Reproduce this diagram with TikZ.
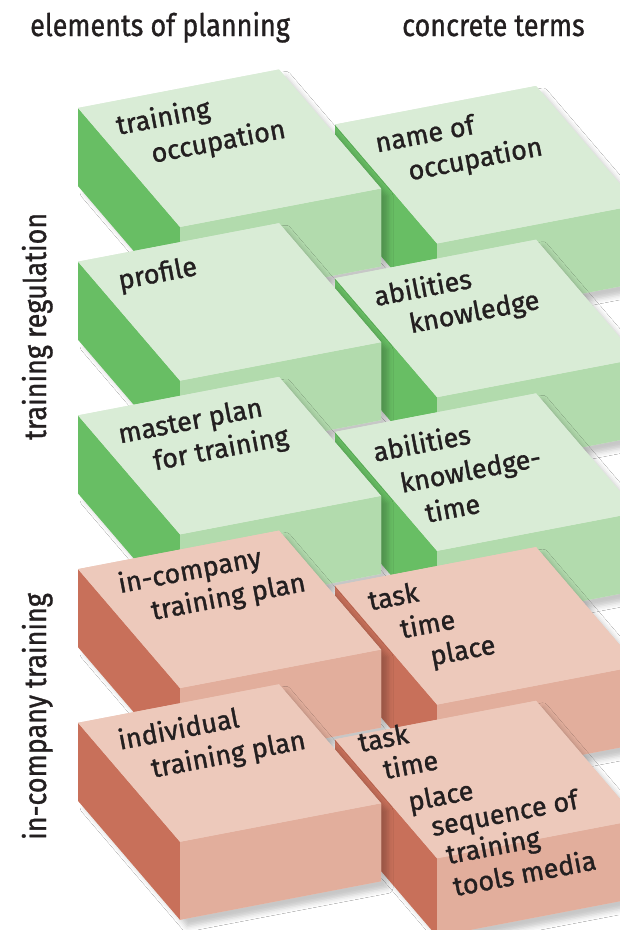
\documentclass[tikz,border=0pt]{standalone}
\usepackage{fontspec}
\setmainfont[FakeBold=1.2]{Fira Sans}
\newfontfamily\condfont[FakeStretch=0.87,FakeBold=1.0]{Fira Sans}
\usetikzlibrary{shadows.blur}
\definecolor{gtop}{RGB}{217,236,214}
\definecolor{gfront}{RGB}{178,219,173}
\definecolor{gleft}{RGB}{104,190,100}
\definecolor{rtop}{RGB}{237,201,187}
\definecolor{rfront}{RGB}{226,174,156}
\definecolor{rleft}{RGB}{200,112,90}
\definecolor{txt}{RGB}{35,31,32}
\tikzset{
  lbl/.style={anchor=base west, rotate=10.8, inner sep=0pt, text=txt,
    font=\fontsize{27}{30}\selectfont},
  hdr/.style={anchor=base west, inner sep=0pt, text=txt,
    font=\condfont\fontsize{31}{34}\selectfont},
  side/.style={hdr, rotate=90},
  shad/.style={blur shadow={shadow xshift=7pt, shadow yshift=-7pt,
    shadow blur radius=5pt, shadow opacity=22}},
}
\newcommand\myblock[4]{%
  \begin{scope}[shift={(#1,#2)}]
    \fill[#3top, shad] (0,0) -- (201,-38.5) -- (303,80.5) -- (303,158.5)
      -- (102,197) -- (0,78) -- cycle;
    \fill[#3left] (0,0) -- (102,119) -- (102,197) -- (0,78) -- cycle;
    \fill[#3front] (102,119) -- (303,80.5) -- (303,158.5) -- (102,197) -- cycle;
    \fill[#3top] (0,0) -- (201,-38.5) -- (303,80.5) -- (102,119) -- cycle;
    #4
  \end{scope}}
\begin{document}
\begin{tikzpicture}[x=1pt,y=-1pt]
\useasboundingbox (0,0) rectangle (620,930);
\fill[white] (0,0) rectangle (620,930);
\clip (0,0) rectangle (620,930);

\node[hdr] (h1) at (30,36) {elements of planning};
\node[hdr] (h2) at (402,36) {concrete terms};
\node[side] (s1) at (46,440) {training regulation};
\node[side] (s2) at (46,840) {in-company training};

% row 1
\myblock{335}{124.5}{g}{
  \node[lbl] (r1a) at (42,28) {name of};
  \node[lbl] (r1b) at (75,56) {occupation};}
\myblock{78}{108}{g}{
  \node[lbl] (l1a) at (40,27) {training};
  \node[lbl] (l1b) at (75,55) {occupation};}
% row 2
\myblock{335}{278.2}{g}{
  \node[lbl] (r2a) at (41,28) {abilities};
  \node[lbl] (r2b) at (76,55) {knowledge};}
\myblock{78}{261.7}{g}{
  \node[lbl] (l2a) at (42,28) {profile};}
% row 3
\myblock{335}{431.9}{g}{
  \node[lbl] (r3a) at (40,30) {abilities};
  \node[lbl] (r3b) at (67,61) {knowledge-};
  \node[lbl] (r3c) at (92,91) {time};}
\myblock{78}{415.4}{g}{
  \node[lbl] (l3a) at (42,28) {master plan};
  \node[lbl] (l3b) at (77,55) {for training};}
% row 4
\myblock{335}{585.6}{r}{
  \node[lbl] (r4a) at (35,25) {task};
  \node[lbl] (r4b) at (67,53) {time};
  \node[lbl] (r4c) at (97,80) {place};}
\myblock{78}{569.1}{r}{
  \node[lbl] (l4a) at (42,24) {in-company};
  \node[lbl] (l4b) at (75,51) {training plan};}
% row 5
\myblock{335}{739.3}{r}{
  \node[lbl] (r5a) at (25,13) {task};
  \node[lbl] (r5b) at (50,40) {time};
  \node[lbl] (r5c) at (75,72) {place};
  \node[lbl] (r5d) at (98,97) {sequence of};
  \node[lbl] (r5e) at (113,125) {training};
  \node[lbl] (r5f) at (120,157) {tools media};}
\myblock{78}{722.8}{r}{
  \node[lbl] (l5a) at (42,27) {individual};
  \node[lbl] (l5b) at (75,55) {training plan};}
\end{tikzpicture}
\end{document}
